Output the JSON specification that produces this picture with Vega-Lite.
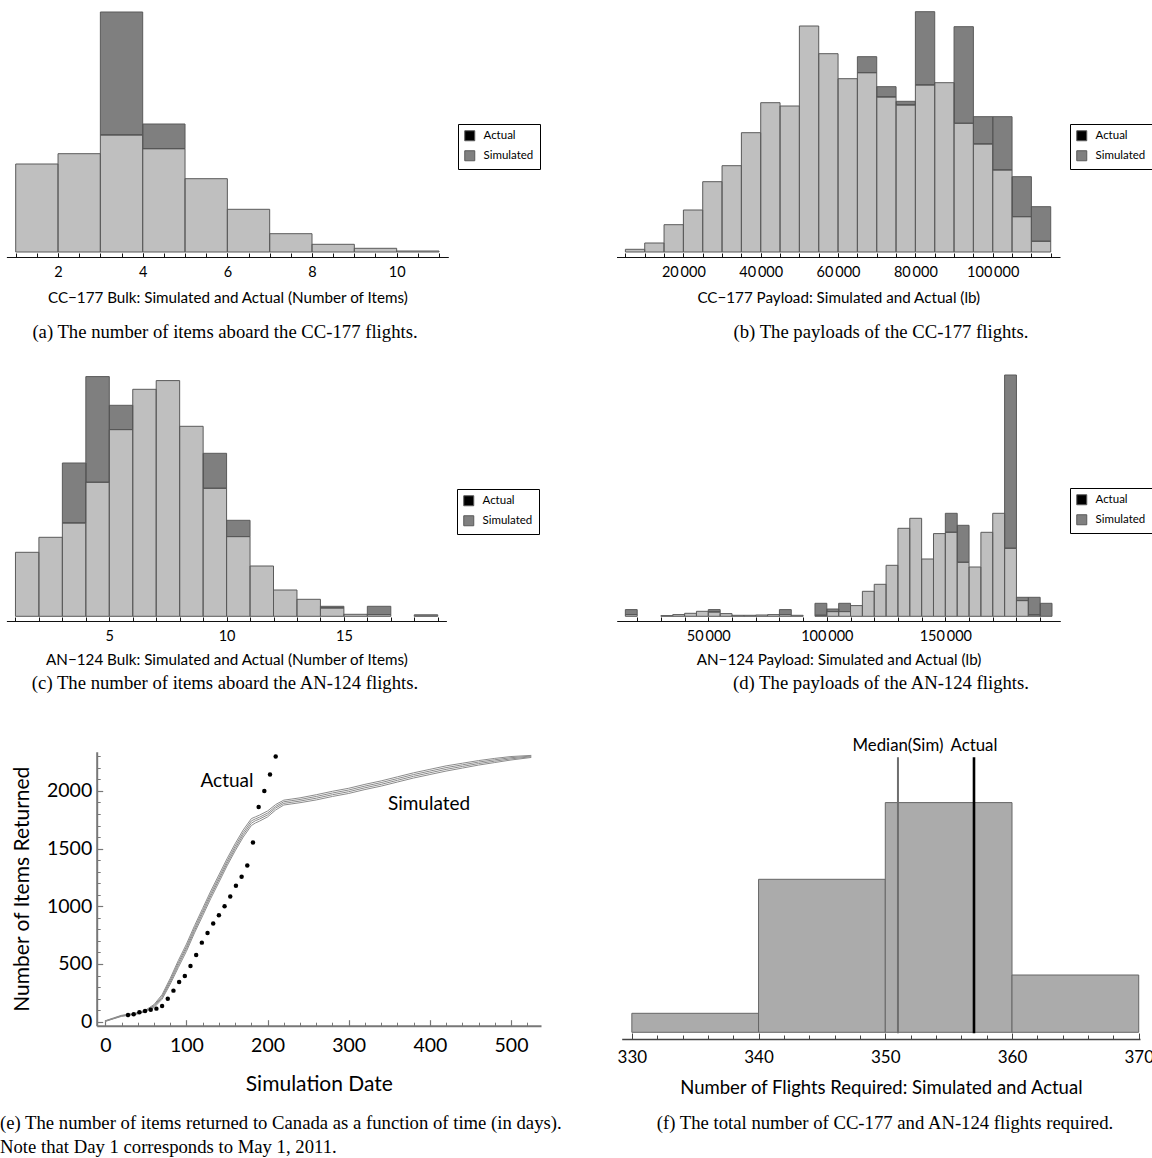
{
  "$schema": "https://vega.github.io/schema/vega-lite/v6.json",
  "padding": 0,
  "background": "white",
  "columns": 2,
  "align": "each",
  "bounds": "flush",
  "spacing": {"row": 20, "column": 69},
  "resolve": {"scale": {"color": "independent", "strokeWidth": "independent"}, "legend": {"color": "independent"}},
  "config": {
    "view": {"stroke": null},
    "axis": {"labelFont": "Lato", "titleFont": "Lato", "titleFontWeight": "normal", "labelColor": "black", "titleColor": "black", "grid": false, "domainColor": "#111", "tickColor": "#111", "labelOverlap": false, "labelFlush": false},
    "legend": {"labelFont": "Lato", "labelFontSize": 11.5, "labelColor": "black", "symbolType": "square", "symbolSize": 100, "symbolOpacity": 1, "symbolStrokeWidth": 1, "strokeColor": "black", "fillColor": "white", "padding": 6, "rowPadding": 5, "labelOffset": 8, "cornerRadius": 0},
    "title": {"font": "Liberation Serif", "fontSize": 18.7, "fontWeight": "normal", "color": "black"}
  },
  "datasets": {
    "a": [
      {"b0": 1, "b1": 2, "lower": 88, "upper": 88},
      {"b0": 2, "b1": 3, "lower": 98.3, "upper": 98.3},
      {"b0": 3, "b1": 4, "lower": 117, "upper": 240},
      {"b0": 4, "b1": 5, "lower": 103.3, "upper": 128},
      {"b0": 5, "b1": 6, "lower": 73.3, "upper": 73.3},
      {"b0": 6, "b1": 7, "lower": 42.7, "upper": 42.7},
      {"b0": 7, "b1": 8, "lower": 18.3, "upper": 18.3},
      {"b0": 8, "b1": 9, "lower": 7.7, "upper": 7.7},
      {"b0": 9, "b1": 10, "lower": 3.7, "upper": 3.7},
      {"b0": 10, "b1": 11, "lower": 1, "upper": 1}
    ],
    "b": [
      {"b0": 5000, "b1": 10000, "lower": 2.7, "upper": 2.7},
      {"b0": 10000, "b1": 15000, "lower": 9, "upper": 9},
      {"b0": 15000, "b1": 20000, "lower": 27.3, "upper": 27.3},
      {"b0": 20000, "b1": 25000, "lower": 42, "upper": 42},
      {"b0": 25000, "b1": 30000, "lower": 70.3, "upper": 70.3},
      {"b0": 30000, "b1": 35000, "lower": 86.3, "upper": 86.3},
      {"b0": 35000, "b1": 40000, "lower": 119.3, "upper": 119.3},
      {"b0": 40000, "b1": 45000, "lower": 149.3, "upper": 149.3},
      {"b0": 45000, "b1": 50000, "lower": 146, "upper": 146},
      {"b0": 50000, "b1": 55000, "lower": 226, "upper": 226},
      {"b0": 55000, "b1": 60000, "lower": 198.3, "upper": 198.3},
      {"b0": 60000, "b1": 65000, "lower": 173.3, "upper": 173.3},
      {"b0": 65000, "b1": 70000, "lower": 179.3, "upper": 195.3},
      {"b0": 70000, "b1": 75000, "lower": 155, "upper": 165.3},
      {"b0": 75000, "b1": 80000, "lower": 147, "upper": 150.7},
      {"b0": 80000, "b1": 85000, "lower": 167, "upper": 240.3},
      {"b0": 85000, "b1": 90000, "lower": 169.3, "upper": 169.3},
      {"b0": 90000, "b1": 95000, "lower": 128.7, "upper": 225.3},
      {"b0": 95000, "b1": 100000, "lower": 108, "upper": 135.3},
      {"b0": 100000, "b1": 105000, "lower": 82, "upper": 135.3},
      {"b0": 105000, "b1": 110000, "lower": 35.3, "upper": 75.3},
      {"b0": 110000, "b1": 115000, "lower": 10.7, "upper": 45.3}
    ],
    "c": [
      {"b0": 1, "b1": 2, "lower": 64, "upper": 64},
      {"b0": 2, "b1": 3, "lower": 79, "upper": 79},
      {"b0": 3, "b1": 4, "lower": 93.3, "upper": 153.3},
      {"b0": 4, "b1": 5, "lower": 134, "upper": 239.7},
      {"b0": 5, "b1": 6, "lower": 186.7, "upper": 211},
      {"b0": 6, "b1": 7, "lower": 227, "upper": 227},
      {"b0": 7, "b1": 8, "lower": 235.7, "upper": 235.7},
      {"b0": 8, "b1": 9, "lower": 190, "upper": 190},
      {"b0": 9, "b1": 10, "lower": 128, "upper": 163},
      {"b0": 10, "b1": 11, "lower": 79.7, "upper": 96},
      {"b0": 11, "b1": 12, "lower": 50.3, "upper": 50.3},
      {"b0": 12, "b1": 13, "lower": 26.3, "upper": 26.3},
      {"b0": 13, "b1": 14, "lower": 17, "upper": 17},
      {"b0": 14, "b1": 15, "lower": 8.3, "upper": 10},
      {"b0": 15, "b1": 16, "lower": 2, "upper": 2},
      {"b0": 16, "b1": 17, "lower": 1.7, "upper": 10},
      {"b0": 18, "b1": 19, "lower": 0, "upper": 1.5}
    ],
    "d": [
      {"b0": 15000, "b1": 20000, "lower": 1.7, "upper": 6.7},
      {"b0": 30000, "b1": 35000, "lower": 0.7, "upper": 0.7},
      {"b0": 35000, "b1": 40000, "lower": 1.7, "upper": 1.7},
      {"b0": 40000, "b1": 45000, "lower": 3, "upper": 3},
      {"b0": 45000, "b1": 50000, "lower": 5, "upper": 5},
      {"b0": 50000, "b1": 55000, "lower": 4.3, "upper": 6.7},
      {"b0": 55000, "b1": 60000, "lower": 2.7, "upper": 2.7},
      {"b0": 60000, "b1": 65000, "lower": 1, "upper": 1},
      {"b0": 65000, "b1": 70000, "lower": 1, "upper": 1},
      {"b0": 70000, "b1": 75000, "lower": 1.3, "upper": 1.3},
      {"b0": 75000, "b1": 80000, "lower": 1.7, "upper": 1.7},
      {"b0": 80000, "b1": 85000, "lower": 1.7, "upper": 6.7},
      {"b0": 85000, "b1": 90000, "lower": 1, "upper": 1},
      {"b0": 95000, "b1": 100000, "lower": 1, "upper": 13},
      {"b0": 100000, "b1": 105000, "lower": 4.7, "upper": 7.3},
      {"b0": 105000, "b1": 110000, "lower": 4.7, "upper": 13},
      {"b0": 110000, "b1": 115000, "lower": 10.7, "upper": 10.7},
      {"b0": 115000, "b1": 120000, "lower": 25, "upper": 25},
      {"b0": 120000, "b1": 125000, "lower": 32, "upper": 32},
      {"b0": 125000, "b1": 130000, "lower": 51, "upper": 51},
      {"b0": 130000, "b1": 135000, "lower": 88, "upper": 88},
      {"b0": 135000, "b1": 140000, "lower": 98, "upper": 98},
      {"b0": 140000, "b1": 145000, "lower": 57.3, "upper": 57.3},
      {"b0": 145000, "b1": 150000, "lower": 82.7, "upper": 82.7},
      {"b0": 150000, "b1": 155000, "lower": 84, "upper": 103},
      {"b0": 155000, "b1": 160000, "lower": 54, "upper": 91},
      {"b0": 160000, "b1": 165000, "lower": 49.3, "upper": 49.3},
      {"b0": 165000, "b1": 170000, "lower": 84, "upper": 84},
      {"b0": 170000, "b1": 175000, "lower": 103, "upper": 103},
      {"b0": 175000, "b1": 180000, "lower": 68, "upper": 241.3},
      {"b0": 180000, "b1": 185000, "lower": 15.7, "upper": 19},
      {"b0": 185000, "b1": 190000, "lower": 1.3, "upper": 19},
      {"b0": 190000, "b1": 195000, "lower": 0, "upper": 13}
    ],
    "eSim": [
      {"run": 1, "day": 0, "items": 2}, {"run": 2, "day": 0, "items": 4}, {"run": 3, "day": 0, "items": 6}, {"run": 4, "day": 0, "items": 8},
      {"run": 1, "day": 10, "items": 24}, {"run": 2, "day": 10, "items": 27}, {"run": 3, "day": 10, "items": 29}, {"run": 4, "day": 10, "items": 32},
      {"run": 1, "day": 20, "items": 46}, {"run": 2, "day": 20, "items": 49}, {"run": 3, "day": 20, "items": 52}, {"run": 4, "day": 20, "items": 55},
      {"run": 1, "day": 30, "items": 56}, {"run": 2, "day": 30, "items": 59}, {"run": 3, "day": 30, "items": 62}, {"run": 4, "day": 30, "items": 65},
      {"run": 1, "day": 40, "items": 67}, {"run": 2, "day": 40, "items": 71}, {"run": 3, "day": 40, "items": 74}, {"run": 4, "day": 40, "items": 78},
      {"run": 1, "day": 50, "items": 88}, {"run": 2, "day": 50, "items": 93}, {"run": 3, "day": 50, "items": 97}, {"run": 4, "day": 50, "items": 102},
      {"run": 1, "day": 60, "items": 122}, {"run": 2, "day": 60, "items": 131}, {"run": 3, "day": 60, "items": 139}, {"run": 4, "day": 60, "items": 148},
      {"run": 1, "day": 70, "items": 195}, {"run": 2, "day": 70, "items": 208}, {"run": 3, "day": 70, "items": 221}, {"run": 4, "day": 70, "items": 234},
      {"run": 1, "day": 80, "items": 325}, {"run": 2, "day": 80, "items": 342}, {"run": 3, "day": 80, "items": 358}, {"run": 4, "day": 80, "items": 375},
      {"run": 1, "day": 90, "items": 470}, {"run": 2, "day": 90, "items": 490}, {"run": 3, "day": 90, "items": 510}, {"run": 4, "day": 90, "items": 530},
      {"run": 1, "day": 100, "items": 610}, {"run": 2, "day": 100, "items": 632}, {"run": 3, "day": 100, "items": 650}, {"run": 4, "day": 100, "items": 672},
      {"run": 1, "day": 110, "items": 770}, {"run": 2, "day": 110, "items": 790}, {"run": 3, "day": 110, "items": 810}, {"run": 4, "day": 110, "items": 832},
      {"run": 1, "day": 120, "items": 918}, {"run": 2, "day": 120, "items": 940}, {"run": 3, "day": 120, "items": 960}, {"run": 4, "day": 120, "items": 982},
      {"run": 1, "day": 130, "items": 1068}, {"run": 2, "day": 130, "items": 1090}, {"run": 3, "day": 130, "items": 1110}, {"run": 4, "day": 130, "items": 1132},
      {"run": 1, "day": 140, "items": 1208}, {"run": 2, "day": 140, "items": 1230}, {"run": 3, "day": 140, "items": 1250}, {"run": 4, "day": 140, "items": 1272},
      {"run": 1, "day": 150, "items": 1350}, {"run": 2, "day": 150, "items": 1370}, {"run": 3, "day": 150, "items": 1390}, {"run": 4, "day": 150, "items": 1412},
      {"run": 1, "day": 160, "items": 1480}, {"run": 2, "day": 160, "items": 1500}, {"run": 3, "day": 160, "items": 1520}, {"run": 4, "day": 160, "items": 1542},
      {"run": 1, "day": 170, "items": 1600}, {"run": 2, "day": 170, "items": 1620}, {"run": 3, "day": 170, "items": 1640}, {"run": 4, "day": 170, "items": 1662},
      {"run": 1, "day": 180, "items": 1700}, {"run": 2, "day": 180, "items": 1720}, {"run": 3, "day": 180, "items": 1740}, {"run": 4, "day": 180, "items": 1760},
      {"run": 1, "day": 185, "items": 1722}, {"run": 2, "day": 185, "items": 1742}, {"run": 3, "day": 185, "items": 1758}, {"run": 4, "day": 185, "items": 1775},
      {"run": 1, "day": 190, "items": 1738}, {"run": 2, "day": 190, "items": 1756}, {"run": 3, "day": 190, "items": 1772}, {"run": 4, "day": 190, "items": 1790},
      {"run": 1, "day": 200, "items": 1775}, {"run": 2, "day": 200, "items": 1792}, {"run": 3, "day": 200, "items": 1808}, {"run": 4, "day": 200, "items": 1826},
      {"run": 1, "day": 210, "items": 1835}, {"run": 2, "day": 210, "items": 1852}, {"run": 3, "day": 210, "items": 1866}, {"run": 4, "day": 210, "items": 1882},
      {"run": 1, "day": 220, "items": 1878}, {"run": 2, "day": 220, "items": 1892}, {"run": 3, "day": 220, "items": 1906}, {"run": 4, "day": 220, "items": 1920},
      {"run": 1, "day": 230, "items": 1888}, {"run": 2, "day": 230, "items": 1902}, {"run": 3, "day": 230, "items": 1916}, {"run": 4, "day": 230, "items": 1930},
      {"run": 1, "day": 240, "items": 1898}, {"run": 2, "day": 240, "items": 1912}, {"run": 3, "day": 240, "items": 1926}, {"run": 4, "day": 240, "items": 1940},
      {"run": 1, "day": 260, "items": 1922}, {"run": 2, "day": 260, "items": 1937}, {"run": 3, "day": 260, "items": 1952}, {"run": 4, "day": 260, "items": 1967},
      {"run": 1, "day": 280, "items": 1952}, {"run": 2, "day": 280, "items": 1967}, {"run": 3, "day": 280, "items": 1982}, {"run": 4, "day": 280, "items": 1997},
      {"run": 1, "day": 300, "items": 1978}, {"run": 2, "day": 300, "items": 1993}, {"run": 3, "day": 300, "items": 2008}, {"run": 4, "day": 300, "items": 2023},
      {"run": 1, "day": 320, "items": 2012}, {"run": 2, "day": 320, "items": 2027}, {"run": 3, "day": 320, "items": 2042}, {"run": 4, "day": 320, "items": 2057},
      {"run": 1, "day": 340, "items": 2042}, {"run": 2, "day": 340, "items": 2057}, {"run": 3, "day": 340, "items": 2072}, {"run": 4, "day": 340, "items": 2087},
      {"run": 1, "day": 360, "items": 2077}, {"run": 2, "day": 360, "items": 2092}, {"run": 3, "day": 360, "items": 2107}, {"run": 4, "day": 360, "items": 2122},
      {"run": 1, "day": 380, "items": 2112}, {"run": 2, "day": 380, "items": 2127}, {"run": 3, "day": 380, "items": 2142}, {"run": 4, "day": 380, "items": 2157},
      {"run": 1, "day": 400, "items": 2142}, {"run": 2, "day": 400, "items": 2157}, {"run": 3, "day": 400, "items": 2172}, {"run": 4, "day": 400, "items": 2187},
      {"run": 1, "day": 420, "items": 2172}, {"run": 2, "day": 420, "items": 2187}, {"run": 3, "day": 420, "items": 2202}, {"run": 4, "day": 420, "items": 2217},
      {"run": 1, "day": 440, "items": 2198}, {"run": 2, "day": 440, "items": 2212}, {"run": 3, "day": 440, "items": 2226}, {"run": 4, "day": 440, "items": 2240},
      {"run": 1, "day": 460, "items": 2224}, {"run": 2, "day": 460, "items": 2237}, {"run": 3, "day": 460, "items": 2250}, {"run": 4, "day": 460, "items": 2263},
      {"run": 1, "day": 480, "items": 2246}, {"run": 2, "day": 480, "items": 2258}, {"run": 3, "day": 480, "items": 2270}, {"run": 4, "day": 480, "items": 2282},
      {"run": 1, "day": 500, "items": 2268}, {"run": 2, "day": 500, "items": 2278}, {"run": 3, "day": 500, "items": 2288}, {"run": 4, "day": 500, "items": 2298},
      {"run": 1, "day": 525, "items": 2290}, {"run": 2, "day": 525, "items": 2296}, {"run": 3, "day": 525, "items": 2302}, {"run": 4, "day": 525, "items": 2308}
    ],
    "eAct": [
      {"day": 28, "items": 58}, {"day": 35, "items": 64}, {"day": 42, "items": 81}, {"day": 49, "items": 92},
      {"day": 56, "items": 104}, {"day": 63, "items": 113}, {"day": 70, "items": 136}, {"day": 77, "items": 199},
      {"day": 84, "items": 269}, {"day": 91, "items": 344}, {"day": 98, "items": 396}, {"day": 105, "items": 483},
      {"day": 112, "items": 578}, {"day": 119, "items": 685}, {"day": 126, "items": 769}, {"day": 133, "items": 850},
      {"day": 140, "items": 922}, {"day": 147, "items": 1000}, {"day": 154, "items": 1084}, {"day": 161, "items": 1179},
      {"day": 168, "items": 1257}, {"day": 175, "items": 1353}, {"day": 182, "items": 1552}, {"day": 189, "items": 1861},
      {"day": 196, "items": 2000}, {"day": 203, "items": 2142}, {"day": 210, "items": 2298}
    ],
    "eLab": [
      {"day": 150, "items": 2087, "label": "Actual"},
      {"day": 399, "items": 1887, "label": "Simulated"}
    ],
    "f": [
      {"b0": 330, "b1": 340, "count": 19},
      {"b0": 340, "b1": 350, "count": 153},
      {"b0": 350, "b1": 360, "count": 229.7},
      {"b0": 360, "b1": 370, "count": 57.3}
    ],
    "fLines": [
      {"flights": 351, "label": "Median(Sim)"},
      {"flights": 357, "label": "Actual"}
    ]
  },
  "concat": [
    {
      "width": 450, "height": 257,
      "data": {"name": "a"},
      "title": {"text": "(a)  The number of items aboard the CC-177 flights.", "orient": "bottom", "anchor": "middle", "frame": "group", "offset": 17},
      "resolve": {"axis": {"x": "independent"}},
      "layer": [
        {
          "transform": [{"filter": "datum.lower > 0"}],
          "mark": {"type": "bar", "fillOpacity": 0.5, "stroke": "#5a5a5a", "strokeWidth": 1},
          "encoding": {
            "x": {"field": "b0", "type": "quantitative", "scale": {"domain": [0.78, 11.22], "range": [6.4, 448.3], "nice": false, "zero": false},
              "axis": {"orient": "bottom", "title": "CC\u2212177 Bulk: Simulated and Actual (Number of Items)", "values": [2, 4, 6, 8, 10], "format": "d", "labelOverlap": false, "tickSize": -4, "labelPadding": 12, "labelFontSize": 14.5, "titleFontSize": 15.2, "titlePadding": 12, "domainWidth": 1.2}},
            "x2": {"field": "b1"},
            "y": {"field": "lower", "type": "quantitative", "scale": {"domain": [-5, 252], "nice": false, "zero": false}, "axis": null},
            "y2": {"datum": 0},
            "color": {"datum": "Simulated", "type": "nominal", "scale": {"domain": ["Actual", "Simulated"], "range": ["#000000", "#808080"]},
              "legend": {"title": null, "orient": "none", "legendX": 458, "legendY": 124}}
          }
        },
        {
          "transform": [{"filter": "datum.upper > datum.lower"}],
          "mark": {"type": "bar", "fillOpacity": 0.5, "stroke": "#5a5a5a", "strokeWidth": 1},
          "encoding": {
            "x": {"field": "b0", "type": "quantitative",
              "axis": {"orient": "bottom", "title": null, "labels": false, "domain": false, "values": [1,1.5,2,2.5,3,3.5,4,4.5,5,5.5,6,6.5,7,7.5,8,8.5,9,9.5,10,10.5,11], "tickSize": -4}},
            "x2": {"field": "b1"},
            "y": {"field": "upper", "type": "quantitative"},
            "y2": {"field": "lower"},
            "color": {"datum": "Actual", "type": "nominal"}
          }
        }
      ]
    },
    {
      "width": 542, "height": 257,
      "data": {"name": "b"},
      "title": {"text": "(b)  The payloads of the CC-177 flights.", "orient": "bottom", "anchor": "middle", "frame": "group", "offset": 17},
      "resolve": {"axis": {"x": "independent"}},
      "layer": [
        {
          "transform": [{"filter": "datum.lower > 0"}],
          "mark": {"type": "bar", "fillOpacity": 0.5, "stroke": "#5a5a5a", "strokeWidth": 1},
          "encoding": {
            "x": {"field": "b0", "type": "quantitative", "scale": {"domain": [2700, 117400], "range": [6.5, 450], "nice": false, "zero": false},
              "axis": {"orient": "bottom", "title": "CC\u2212177 Payload: Simulated and Actual (lb)", "values": [20000, 40000, 60000, 80000, 100000], "labelExpr": "replace(format(datum.value, ','), ',', '\u2009')", "labelOverlap": false, "tickSize": -4, "labelPadding": 12, "labelFontSize": 14.5, "titleFontSize": 15.2, "titlePadding": 12, "domainWidth": 1.2}},
            "x2": {"field": "b1"},
            "y": {"field": "lower", "type": "quantitative", "scale": {"domain": [-5, 252], "nice": false, "zero": false}, "axis": null},
            "y2": {"datum": 0},
            "color": {"datum": "Simulated", "type": "nominal", "scale": {"domain": ["Actual", "Simulated"], "range": ["#000000", "#808080"]},
              "legend": {"title": null, "orient": "none", "legendX": 460, "legendY": 124}}
          }
        },
        {
          "transform": [{"filter": "datum.upper > datum.lower"}],
          "mark": {"type": "bar", "fillOpacity": 0.5, "stroke": "#5a5a5a", "strokeWidth": 1},
          "encoding": {
            "x": {"field": "b0", "type": "quantitative",
              "axis": {"orient": "bottom", "title": null, "labels": false, "domain": false, "values": [5000,10000,15000,20000,25000,30000,35000,40000,45000,50000,55000,60000,65000,70000,75000,80000,85000,90000,95000,100000,105000,110000,115000], "tickSize": -4}},
            "x2": {"field": "b1"},
            "y": {"field": "upper", "type": "quantitative"},
            "y2": {"field": "lower"},
            "color": {"datum": "Actual", "type": "nominal"}
          }
        }
      ]
    },
    {
      "width": 450, "height": 344,
      "data": {"name": "c"},
      "title": {"text": "(c)  The number of items aboard the AN-124 flights.", "orient": "bottom", "anchor": "middle", "frame": "group", "offset": 6},
      "resolve": {"axis": {"x": "independent"}},
      "layer": [
        {
          "transform": [{"filter": "datum.lower > 0"}],
          "mark": {"type": "bar", "fillOpacity": 0.5, "stroke": "#5a5a5a", "strokeWidth": 1},
          "encoding": {
            "x": {"field": "b0", "type": "quantitative", "scale": {"domain": [0.614, 19.37], "range": [6.4, 446.4], "nice": false, "zero": false},
              "axis": {"orient": "bottom", "title": "AN\u2212124 Bulk: Simulated and Actual (Number of Items)", "values": [5, 10, 15], "format": "d", "labelOverlap": false, "tickSize": -4, "labelPadding": 12, "labelFontSize": 14.5, "titleFontSize": 15.2, "titlePadding": 10, "domainWidth": 1.2}},
            "x2": {"field": "b1"},
            "y": {"field": "lower", "type": "quantitative", "scale": {"domain": [-4.7, 339.3], "nice": false, "zero": false}, "axis": null},
            "y2": {"datum": 0},
            "color": {"datum": "Simulated", "type": "nominal", "scale": {"domain": ["Actual", "Simulated"], "range": ["#000000", "#808080"]},
              "legend": {"title": null, "orient": "none", "legendX": 457, "legendY": 212}}
          }
        },
        {
          "transform": [{"filter": "datum.upper > datum.lower"}],
          "mark": {"type": "bar", "fillOpacity": 0.5, "stroke": "#5a5a5a", "strokeWidth": 1},
          "encoding": {
            "x": {"field": "b0", "type": "quantitative",
              "axis": {"orient": "bottom", "title": null, "labels": false, "domain": false, "values": [1,2,3,4,5,6,7,8,9,10,11,12,13,14,15,16,17,18,19], "tickSize": -4}},
            "x2": {"field": "b1"},
            "y": {"field": "upper", "type": "quantitative"},
            "y2": {"field": "lower"},
            "color": {"datum": "Actual", "type": "nominal"}
          }
        }
      ]
    },
    {
      "width": 542, "height": 344,
      "data": {"name": "d"},
      "title": {"text": "(d)  The payloads of the AN-124 flights.", "orient": "bottom", "anchor": "middle", "frame": "group", "offset": 6},
      "resolve": {"axis": {"x": "independent"}},
      "layer": [
        {
          "transform": [{"filter": "datum.lower > 0"}],
          "mark": {"type": "bar", "fillOpacity": 0.5, "stroke": "#5a5a5a", "strokeWidth": 1},
          "encoding": {
            "x": {"field": "b0", "type": "quantitative", "scale": {"domain": [11350, 198500], "range": [6.7, 450.3], "nice": false, "zero": false},
              "axis": {"orient": "bottom", "title": "AN\u2212124 Payload: Simulated and Actual (lb)", "values": [50000, 100000, 150000], "labelExpr": "replace(format(datum.value, ','), ',', '\u2009')", "labelOverlap": false, "tickSize": -4, "labelPadding": 12, "labelFontSize": 14.5, "titleFontSize": 15.2, "titlePadding": 10, "domainWidth": 1.2}},
            "x2": {"field": "b1"},
            "y": {"field": "lower", "type": "quantitative", "scale": {"domain": [-4.7, 339.3], "nice": false, "zero": false}, "axis": null},
            "y2": {"datum": 0},
            "color": {"datum": "Simulated", "type": "nominal", "scale": {"domain": ["Actual", "Simulated"], "range": ["#000000", "#808080"]},
              "legend": {"title": null, "orient": "none", "legendX": 460, "legendY": 211}}
          }
        },
        {
          "transform": [{"filter": "datum.upper > datum.lower"}],
          "mark": {"type": "bar", "fillOpacity": 0.5, "stroke": "#5a5a5a", "strokeWidth": 1},
          "encoding": {
            "x": {"field": "b0", "type": "quantitative",
              "axis": {"orient": "bottom", "title": null, "labels": false, "domain": false, "values": [20000,30000,40000,50000,60000,70000,80000,90000,100000,110000,120000,130000,140000,150000,160000,170000,180000,190000], "tickSize": -4}},
            "x2": {"field": "b1"},
            "y": {"field": "upper", "type": "quantitative"},
            "y2": {"field": "lower"},
            "color": {"datum": "Actual", "type": "nominal"}
          }
        }
      ]
    },
    {
      "width": 541, "height": 384.7,
      "title": {"text": ["(e)  The number of items returned to Canada as a function of time (in days).", "Note that Day 1 corresponds to May 1, 2011."], "orient": "bottom", "anchor": "start", "frame": "group", "offset": 20, "lineHeight": 23.5},
      "resolve": {"axis": {"x": "independent", "y": "independent"}},
      "layer": [
        {
          "data": {"name": "eSim"},
          "mark": {"type": "line", "strokeWidth": 1, "color": "#8c8c8c"},
          "encoding": {
            "x": {"field": "day", "type": "quantitative", "scale": {"domain": [-10.6, 537], "range": [96.7, 541], "nice": false, "zero": false},
              "axis": {"orient": "bottom", "title": "Simulation Date", "values": [0, 100, 200, 300, 400, 500], "format": "d", "labelOverlap": false, "tickSize": -6, "labelPadding": 17, "labelFontSize": 19.5, "titleFontSize": 21, "titlePadding": 18, "domainColor": "#777", "domainWidth": 2, "tickColor": "#777", "tickWidth": 1.2}},
            "y": {"field": "items", "type": "quantitative", "scale": {"domain": [-35, 2340], "range": [384.7, 110.7], "nice": false, "zero": false},
              "axis": {"orient": "left", "title": "Number of Items Returned", "offset": -96.7, "values": [0, 500, 1000, 1500, 2000], "format": "d", "labelOverlap": false, "tickSize": -6, "labelPadding": 11, "labelFontSize": 19.5, "titleFontSize": 21, "titlePadding": 14, "domainColor": "#777", "domainWidth": 2, "tickColor": "#777", "tickWidth": 1.2}},
            "detail": {"field": "run", "type": "nominal"}
          }
        },
        {
          "data": {"name": "eAct"},
          "mark": {"type": "point", "filled": true, "color": "black", "size": 20, "opacity": 1},
          "encoding": {
            "x": {"field": "day", "type": "quantitative",
              "axis": {"orient": "bottom", "title": null, "labels": false, "domain": false, "values": [20,40,60,80,120,140,160,180,220,240,260,280,320,340,360,380,420,440,460,480,520], "tickSize": -3.5, "tickColor": "#777", "tickWidth": 1}},
            "y": {"field": "items", "type": "quantitative",
              "axis": {"orient": "left", "title": null, "labels": false, "domain": false, "offset": -96.7, "values": [100,200,300,400,600,700,800,900,1100,1200,1300,1400,1600,1700,1800,1900,2100,2200,2300], "tickSize": -3.5, "tickColor": "#777", "tickWidth": 1}}
          }
        },
        {
          "data": {"name": "eLab"},
          "mark": {"type": "text", "font": "Lato", "fontSize": 19, "color": "black"},
          "encoding": {
            "x": {"field": "day", "type": "quantitative", "axis": null},
            "y": {"field": "items", "type": "quantitative", "axis": null},
            "text": {"field": "label"}
          }
        }
      ]
    },
    {
      "width": 542, "height": 398,
      "title": {"text": "(f)  The total number of CC-177 and AN-124 flights required.", "orient": "bottom", "anchor": "middle", "frame": "group", "offset": 17, "dx": 4},
      "resolve": {"axis": {"x": "independent"}},
      "layer": [
        {
          "data": {"name": "f"},
          "mark": {"type": "bar", "color": "#ababab", "stroke": "#666666", "strokeWidth": 1},
          "encoding": {
            "x": {"field": "b0", "type": "quantitative", "scale": {"domain": [329.2, 370.1], "range": [11.7, 530], "nice": false, "zero": false},
              "axis": {"orient": "bottom", "title": "Number of Flights Required: Simulated and Actual", "values": [330, 340, 350, 360, 370], "format": "d", "labelOverlap": false, "tickSize": -6, "labelPadding": 16, "labelFontSize": 17, "titleFontSize": 18.5, "titlePadding": 13, "domainColor": "#444", "domainWidth": 1.5, "tickColor": "#444"}},
            "x2": {"field": "b1"},
            "y": {"field": "count", "type": "quantitative", "scale": {"domain": [-6.7, 391.3], "nice": false, "zero": false}, "axis": null},
            "y2": {"datum": 0}
          }
        },
        {
          "data": {"name": "fLines"},
          "mark": {"type": "rule"},
          "encoding": {
            "x": {"field": "flights", "type": "quantitative",
              "axis": {"orient": "bottom", "title": null, "labels": false, "domain": false, "values": [332,334,336,338,342,344,346,348,352,354,356,358,362,364,366,368], "tickSize": -4, "tickColor": "#444"}},
            "y": {"datum": 275},
            "y2": {"datum": -1},
            "color": {"field": "label", "type": "nominal", "scale": {"domain": ["Median(Sim)", "Actual"], "range": ["#6e6e6e", "#000000"]}, "legend": null},
            "strokeWidth": {"field": "label", "type": "nominal", "scale": {"domain": ["Median(Sim)", "Actual"], "range": [2, 2.6]}, "legend": null}
          }
        },
        {
          "data": {"name": "fLines"},
          "mark": {"type": "text", "font": "Lato", "fontSize": 16.8, "color": "black"},
          "encoding": {
            "x": {"field": "flights", "type": "quantitative", "axis": null},
            "y": {"datum": 286},
            "text": {"field": "label"}
          }
        }
      ]
    }
  ]
}
